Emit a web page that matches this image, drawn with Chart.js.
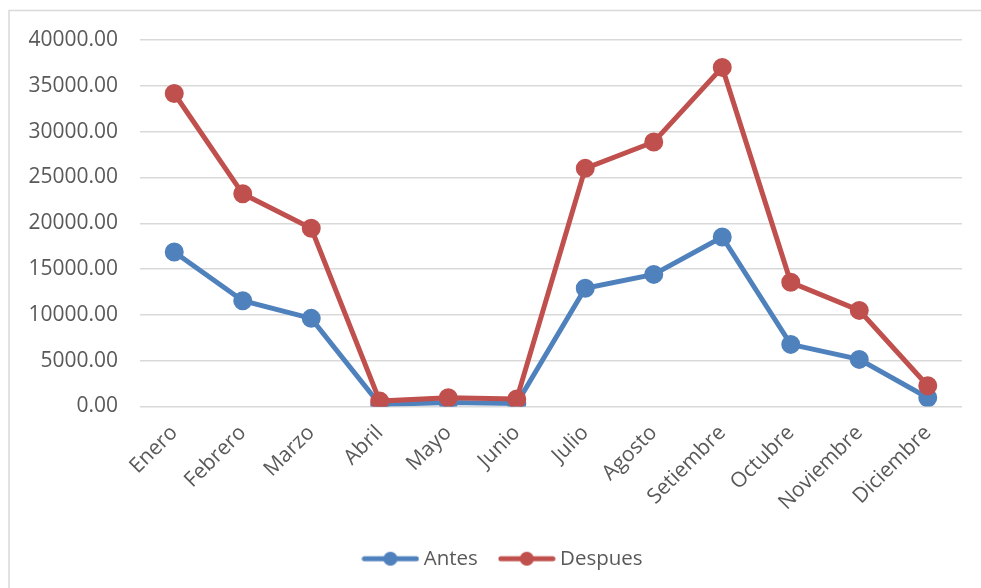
<!DOCTYPE html>
<html>
<head>
<meta charset="utf-8">
<script src="https://cdn.jsdelivr.net/npm/chart.js@4/dist/chart.umd.min.js"></script>
<style>
  html, body { margin: 0; padding: 0; background: #ffffff; }
  #wrap { width: 981px; height: 588px; position: relative; }
</style>
</head>
<body>
<div id="wrap"><canvas id="chart" width="981" height="588"></canvas></div>
<script>
// Months on the category axis
const months = ['Enero', 'Febrero', 'Marzo', 'Abril', 'Mayo', 'Junio',
                'Julio', 'Agosto', 'Setiembre', 'Octubre', 'Noviembre', 'Diciembre'];

// Monthly totals before and after
const antes   = [16860, 11540, 9620, 220, 440, 330, 12900, 14420, 18500, 6780, 5140, 950];
const despues = [34160, 23210, 19450, 590, 950, 810, 25990, 28870, 37010, 13560, 10490, 2270];

// Value axis ticks
const yTicks = [0, 5000, 10000, 15000, 20000, 25000, 30000, 35000, 40000];

const BLUE = '#4F81BD';
const RED = '#C0504D';
const TEXT = '#595959';
const GRID = '#d9d9d9';
const FONT = "'Open Sans', 'Noto Sans', sans-serif";

// Legend marker: a short line with a dot in the middle
function legendMarker(color) {
  const c = document.createElement('canvas');
  c.width = 58; c.height = 16;
  const g = c.getContext('2d');
  g.strokeStyle = color;
  g.lineWidth = 5;
  g.lineCap = 'round';
  g.beginPath();
  g.moveTo(3, 8); g.lineTo(55, 8);
  g.stroke();
  g.fillStyle = color;
  g.beginPath();
  g.arc(29, 8, 7, 0, Math.PI * 2);
  g.fill();
  return c;
}

// Thin frame along the top and left edges of the chart box
const framePlugin = {
  id: 'frame',
  beforeDraw(chart) {
    const ctx = chart.ctx;
    ctx.save();
    ctx.strokeStyle = GRID;
    ctx.lineWidth = 1.5;
    ctx.beginPath();
    ctx.moveTo(9, chart.height);
    ctx.lineTo(9, 10.5);
    ctx.lineTo(chart.width, 10.5);
    ctx.stroke();
    ctx.restore();
  }
};

// Centre the legend under the whole frame rather than the plot
const legendShift = {
  id: 'legendShift',
  afterLayout(chart) {
    const lg = chart.legend;
    if (lg) { lg.left += 24; lg.right += 24; }
  }
};

new Chart(document.getElementById('chart'), {
  type: 'line',
  data: {
    labels: months,
    datasets: [
      {
        label: 'Antes',
        data: antes,
        borderColor: BLUE,
        backgroundColor: BLUE,
        pointBackgroundColor: BLUE,
        pointBorderColor: BLUE,
        borderWidth: 5,
        pointRadius: 7,
        pointHoverRadius: 7,
        tension: 0,
        order: 1,
        pointStyle: 'circle'
      },
      {
        label: 'Despues',
        data: despues,
        borderColor: RED,
        backgroundColor: RED,
        pointBackgroundColor: RED,
        pointBorderColor: RED,
        borderWidth: 5,
        pointRadius: 7,
        pointHoverRadius: 7,
        tension: 0,
        order: 0,
        pointStyle: 'circle'
      }
    ]
  },
  options: {
    responsive: false,
    animation: false,
    layout: { padding: { top: 40, right: 19, bottom: 9, left: 0 } },
    plugins: {
      tooltip: { enabled: false },
      legend: {
        position: 'bottom',
        labels: {
          usePointStyle: true,
          pointStyleWidth: 46,
          boxHeight: 16,
          padding: 26,
          color: TEXT,
          font: { family: FONT, size: 20.5 },
          sort: (a, b) => a.datasetIndex - b.datasetIndex,
          generateLabels(chart) {
            return chart.data.datasets.map((ds, i) => ({
              text: ds.label,
              datasetIndex: i,
              fillStyle: ds.borderColor,
              strokeStyle: ds.borderColor,
              lineWidth: 0,
              fontColor: TEXT,
              hidden: false,
              pointStyle: legendMarker(ds.borderColor)
            }));
          }
        }
      }
    },
    scales: {
      x: {
        offset: true,
        grid: { display: false, drawTicks: false, offset: true },
        border: { display: false },
        ticks: {
          color: TEXT,
          font: { family: FONT, size: 21 },
          minRotation: 45,
          maxRotation: 45,
          padding: 14,
          autoSkip: false
        },
        afterFit(scale) { scale.height = 116; }
      },
      y: {
        min: 0,
        max: 40000,
        afterBuildTicks(scale) { scale.ticks = yTicks.map(v => ({ value: v })); },
        grid: { color: GRID, lineWidth: 1.5, drawTicks: false },
        border: { display: false },
        ticks: {
          color: TEXT,
          font: { family: FONT, size: 21 },
          padding: 22,
          callback: (v) => Number(v).toFixed(2)
        },
        afterFit(scale) { scale.width = 140; }
      }
    }
  },
  plugins: [framePlugin, legendShift]
});
</script>
</body>
</html>
